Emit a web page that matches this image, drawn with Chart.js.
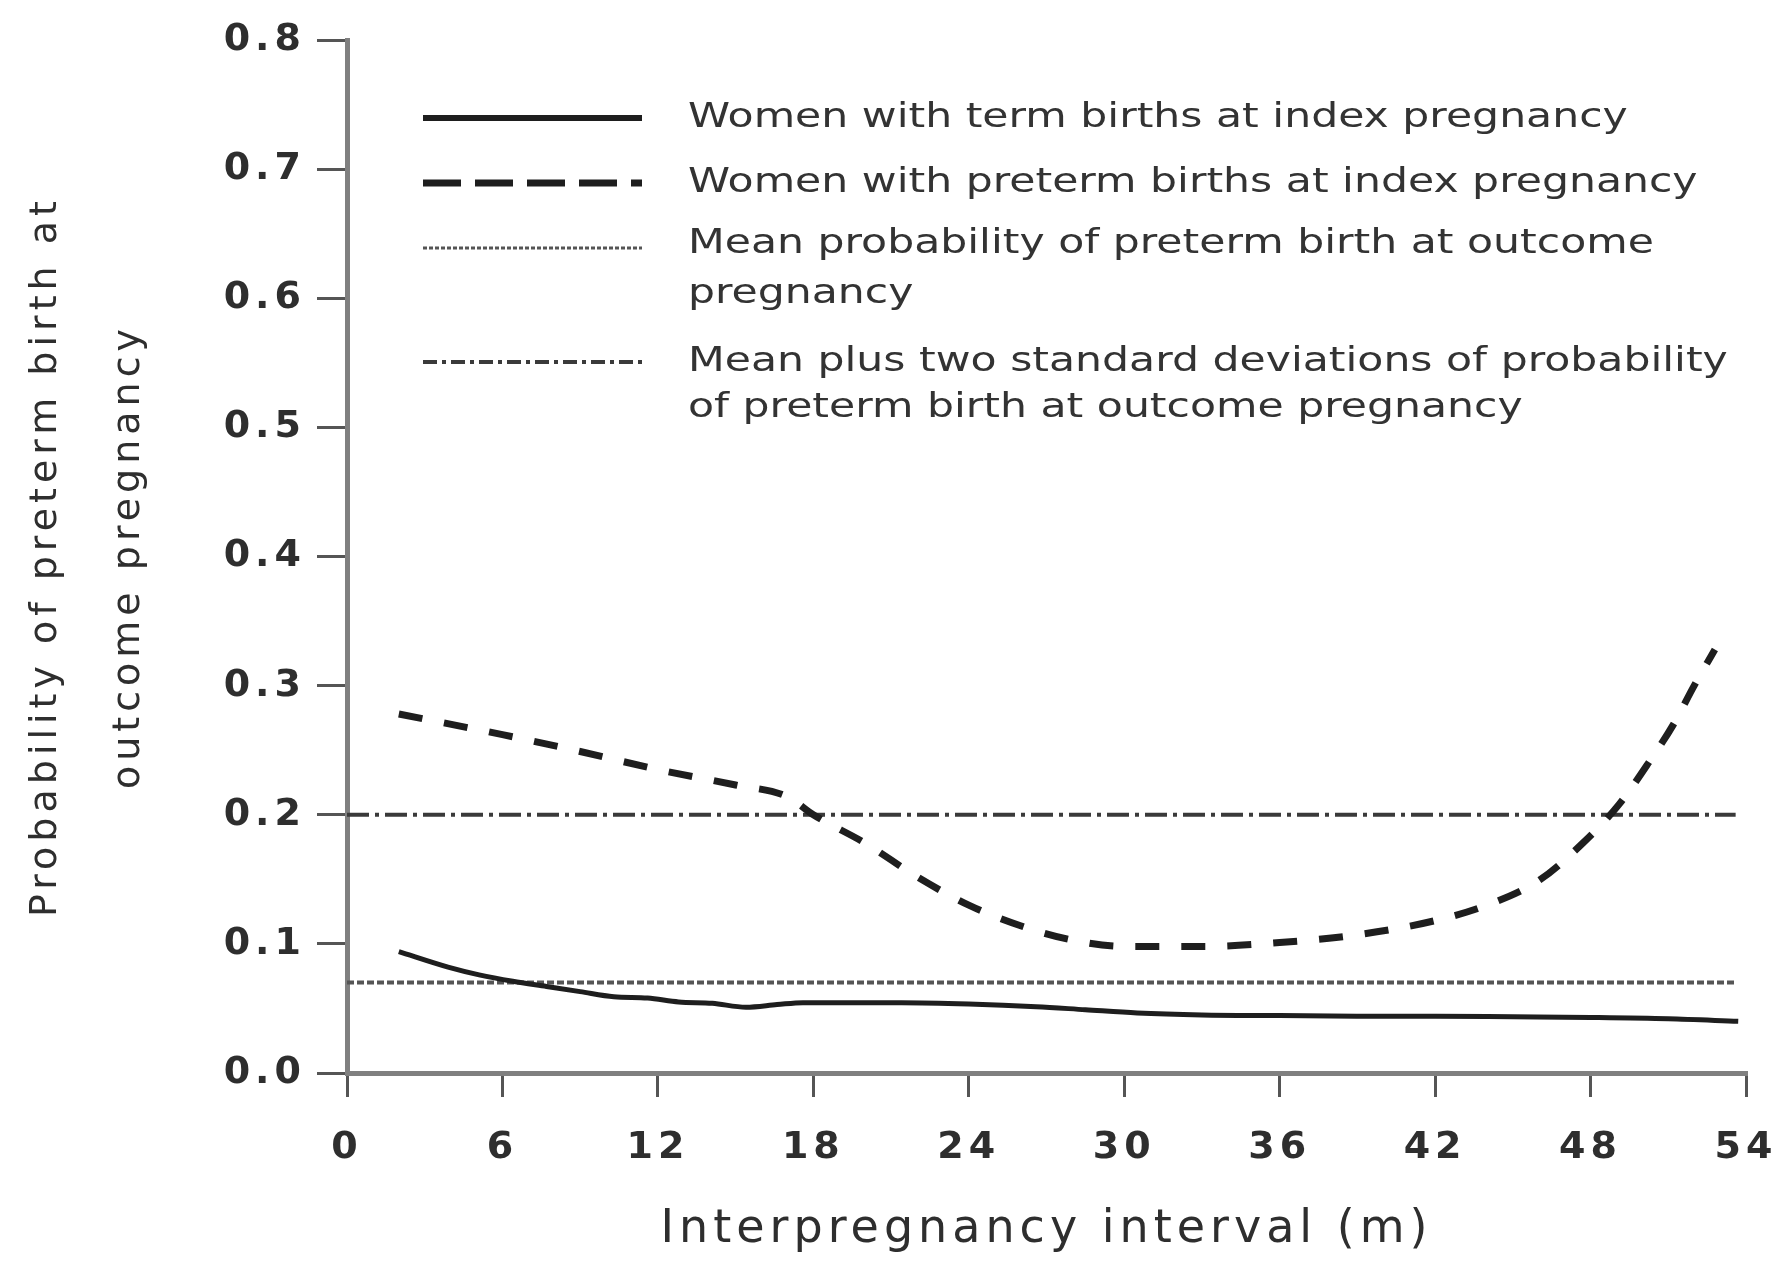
<!DOCTYPE html>
<html>
<head>
<meta charset="utf-8">
<script src="https://cdn.jsdelivr.net/npm/chart.js@4.4.0/dist/chart.umd.min.js"></script>
<style>
  html, body { margin: 0; padding: 0; background: #fff; }
</style>
</head>
<body>
<canvas id="myChart" width="1787" height="1262"></canvas>
<script>
// interpregnancy interval (months) and probability values
var termX = [2, 3.9, 5.1, 6.4, 7.7, 9, 10.3, 11.6, 12.8, 14.1, 15.4, 16.6, 17.6, 21.4, 24, 26.6, 28.5, 30.5, 33, 36, 39, 42, 45, 48, 51, 53.7];
var termY = [0.094, 0.082, 0.076, 0.071, 0.067, 0.063, 0.059, 0.058, 0.055, 0.054, 0.051, 0.053, 0.0545, 0.0545, 0.0535, 0.0514, 0.049, 0.0465, 0.045, 0.0445, 0.044, 0.044, 0.0435, 0.043, 0.042, 0.040];

var pretermX = [2, 6, 9, 12, 15, 17, 18, 20, 22, 24, 26, 28, 30, 33, 36, 39, 42, 44, 46, 47.7, 49.1, 50.3, 51.2, 52, 52.8];
var pretermY = [0.278, 0.262, 0.249, 0.235, 0.223, 0.214, 0.200, 0.178, 0.152, 0.130, 0.114, 0.103, 0.098, 0.098, 0.101, 0.107, 0.118, 0.130, 0.149, 0.178, 0.208, 0.242, 0.270, 0.300, 0.328];

var meanX = [0, 53.6];
var meanY = [0.07, 0.07];

var sdX = [0, 53.6];
var sdY = [0.2, 0.2];

var seriesLabels = [
    ['Women with term births at index pregnancy'],
    ['Women with preterm births at index pregnancy'],
    ['Mean probability of preterm birth at outcome', 'pregnancy'],
    ['Mean plus two standard deviations of probability', 'of preterm birth at outcome pregnancy']
];

var xTitle = 'Interpregnancy interval (m)';
var yTitle = ['Probability of preterm birth at', 'outcome pregnancy'];

var toPoints = function(xs, ys) {
    return xs.map(function(x, i) { return {x: x, y: ys[i]}; });
};

// wide lettering like the scanned figure
var spacing = {
    id: 'spacing',
    beforeUpdate: function(chart) { chart.ctx.letterSpacing = '5px'; },
    beforeDraw: function(chart) { chart.ctx.letterSpacing = '5px'; }
};

// legend box inside the plot, with wrapped labels
var innerLegend = {
    id: 'innerLegend',
    afterDatasetsDraw: function(chart) {
        var ctx = chart.ctx;
        var rows = [
            {lineY: 118, textY: [118]},
            {lineY: 183, textY: [183]},
            {lineY: 248, textY: [244, 294]},
            {lineY: 362, textY: [362, 408]}
        ];
        var sampleDash = [[], [38, 14], [4, 2], [14, 5, 4, 5]];
        var sampleWidth = [6, 7, 3, 4];
        ctx.save();
        chart.data.datasets.forEach(function(ds, i) {
            var r = rows[i];
            ctx.beginPath();
            ctx.setLineDash(sampleDash[i]);
            ctx.lineWidth = sampleWidth[i];
            ctx.strokeStyle = ds.borderColor;
            ctx.moveTo(423, r.lineY);
            ctx.lineTo(642, r.lineY);
            ctx.stroke();
            ctx.setLineDash([]);
            ctx.fillStyle = '#333';
            ctx.font = '33px "DejaVu Sans"';
            ctx.letterSpacing = '0px';
            ctx.textBaseline = 'middle';
            ctx.textAlign = 'left';
            seriesLabels[i].forEach(function(t, k) {
                ctx.save();
                ctx.translate(688, r.textY[k]);
                ctx.scale(1.29, 1);
                ctx.fillText(t, 0, 0);
                ctx.restore();
            });
        });
        ctx.restore();
    }
};

var ctx = document.getElementById('myChart');

var myChart = new Chart(ctx, {
    type: 'line',
    data: {
        datasets: [
            {
                label: seriesLabels[0].join(' '),
                data: toPoints(termX, termY),
                borderColor: '#1e1e1e',
                borderWidth: 5,
                cubicInterpolationMode: 'monotone'
            },
            {
                label: seriesLabels[1].join(' '),
                data: toPoints(pretermX, pretermY),
                borderColor: '#1e1e1e',
                borderWidth: 7,
                borderDash: [24, 22],
                cubicInterpolationMode: 'monotone'
            },
            {
                label: seriesLabels[2].join(' '),
                data: toPoints(meanX, meanY),
                borderColor: '#555',
                borderWidth: 4,
                borderDash: [7, 3]
            },
            {
                label: seriesLabels[3].join(' '),
                data: toPoints(sdX, sdY),
                borderColor: '#3a3a3a',
                borderWidth: 4,
                borderDash: [22, 6, 4, 6]
            }
        ]
    },
    options: {
        responsive: false,
        animation: false,
        layout: { padding: { top: 40, right: 41, left: 0, bottom: 0 } },
        elements: { point: { radius: 0 } },
        plugins: {
            legend: { display: false },
            tooltip: { enabled: false }
        },
        scales: {
            x: {
                type: 'linear',
                min: 0,
                max: 54,
                afterFit: function(scale) {
                    scale.height = 189;
                    scale.paddingLeft = 0;
                    scale.paddingRight = 0;
                },
                border: { display: true, color: '#808080', width: 5 },
                grid: { drawOnChartArea: false, drawTicks: true, tickLength: 24, color: '#555', lineWidth: 3 },
                ticks: {
                    stepSize: 6,
                    autoSkip: false,
                    maxRotation: 0,
                    padding: 28,
                    color: '#2e2e2e',
                    font: { family: '"DejaVu Sans"', size: 38, weight: 'bold' }
                },
                title: {
                    display: true,
                    text: xTitle,
                    color: '#2e2e2e',
                    padding: { top: 0, bottom: 4 },
                    font: { family: '"DejaVu Sans"', size: 46 }
                }
            },
            y: {
                min: 0,
                max: 0.8,
                afterFit: function(scale) { scale.width = 347; },
                border: { display: true, color: '#808080', width: 5 },
                grid: { drawOnChartArea: false, drawTicks: true, tickLength: 30, color: '#555', lineWidth: 3 },
                ticks: {
                    stepSize: 0.1,
                    padding: 11,
                    color: '#2e2e2e',
                    font: { family: '"DejaVu Sans"', size: 38, weight: 'bold' },
                    callback: function(v) { return v.toFixed(1); }
                },
                title: {
                    display: true,
                    text: yTitle,
                    color: '#2e2e2e',
                    padding: { top: 4, bottom: 0 },
                    font: { family: '"DejaVu Sans"', size: 38, lineHeight: 2.2 }
                }
            }
        }
    },
    plugins: [spacing, innerLegend]
});
</script>
</body>
</html>
